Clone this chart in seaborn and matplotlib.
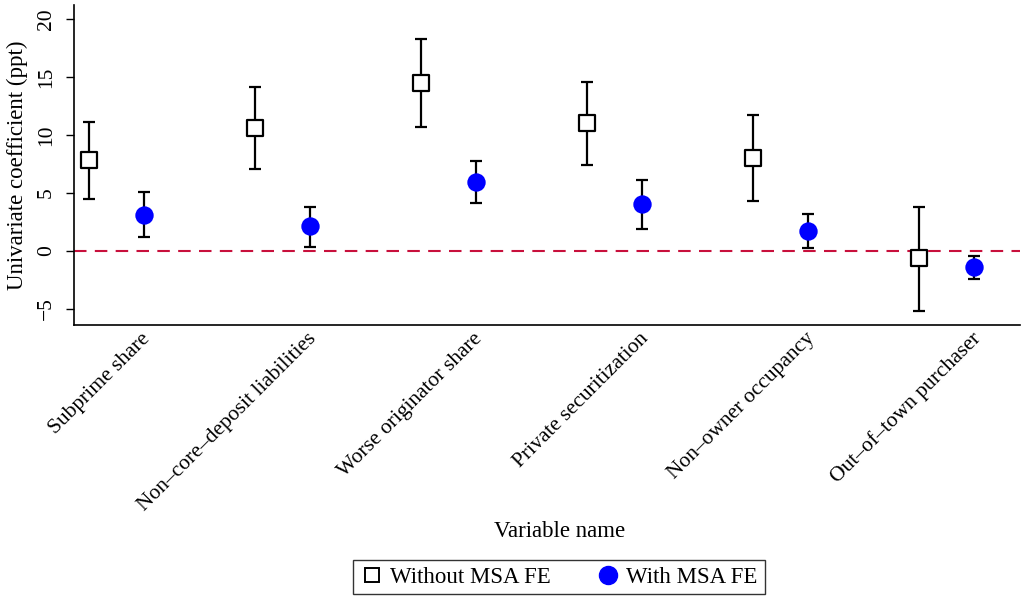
import numpy as np
import pandas as pd
import matplotlib
matplotlib.use("Agg")
import matplotlib.pyplot as plt
import seaborn as sns
from matplotlib.lines import Line2D

categories = ["Subprime share", "Non\u2013core\u2013deposit liabilities", "Worse originator share",
              "Private securitization", "Non\u2013owner occupancy", "Out\u2013of\u2013town purchaser"]
without_coef = [7.82, 10.6, 14.5, 11.0, 8.02, -0.66]
without_lo = [4.48, 7.04, 10.66, 7.41, 4.31, -5.17]
without_hi = [11.1, 14.1, 18.3, 14.6, 11.7, 3.82]
with_coef = [3.1, 2.13, 5.92, 4.05, 1.72, -1.44]
with_lo = [1.2, 0.37, 4.08, 1.9, 0.28, -2.47]
with_hi = [5.03, 3.82, 7.73, 6.12, 3.19, -0.46]
series_names = ["Without MSA FE", "With MSA FE"]

sns.set_theme(style="white")
plt.rcParams['font.family'] = ['Liberation Serif', 'DejaVu Serif']
plt.rcParams['text.color'] = 'black'
plt.rcParams['axes.labelcolor'] = 'black'
plt.rcParams['xtick.color'] = 'black'
plt.rcParams['ytick.color'] = 'black'

fig = plt.figure(figsize=(10.24, 5.98), dpi=100)
ax = fig.add_axes([74/1024, 1 - 325/598, (1020-74)/1024, (325-5)/598])

offset = 0.333
pos = np.arange(len(categories))
df = pd.DataFrame({
    "x": np.concatenate([pos, pos + offset]),
    "coef": without_coef + with_coef,
    "lo": without_lo + with_lo,
    "hi": without_hi + with_hi,
    "series": [series_names[0]] * len(categories) + [series_names[1]] * len(categories),
})

ax.axhline(0, color="#c8103c", lw=1.5, ls=(0, (6, 4)), zorder=1)

for s in series_names:
    d = df[df.series == s]
    ax.errorbar(d.x, d.coef, yerr=[d.coef - d.lo, d.hi - d.coef], fmt="none",
                ecolor="black", elinewidth=1.6, capsize=4.5, capthick=1.6, zorder=2)

d0 = df[df.series == series_names[0]]
d1 = df[df.series == series_names[1]]
sns.scatterplot(data=d0, x="x", y="coef", marker="s", s=145, facecolor="white",
                edgecolor="black", linewidth=1.6, ax=ax, zorder=3, legend=False)
sns.scatterplot(data=d1, x="x", y="coef", marker="o", s=175, color="#0000ff",
                edgecolor="#0000ff", linewidth=0, ax=ax, zorder=3, legend=False)

ax.set_xlim(-0.09, 5.61)
ax.set_ylim(-6.4, 21.2)
ax.set_yticks([-5, 0, 5, 10, 15, 20])
ax.set_yticklabels(["\u22125", "0", "5", "10", "15", "20"], rotation=90, va="center", fontsize=15.5)
ax.set_xticks(pos + offset - 0.02)
ax.set_xticklabels(categories, rotation=45, ha="right", rotation_mode="anchor", fontsize=15.5)
ax.tick_params(axis="y", length=6, width=1, color="black", direction="out", left=True, pad=7)
ax.tick_params(axis="x", length=0, pad=3)
ax.set_ylabel("Univariate coefficient (ppt)", fontsize=16.5)
ax.set_xlabel("Variable name", fontsize=16.5)
ax.yaxis.set_label_coords((28 - 74) / 946, 0.5)
ax.xaxis.set_label_coords((560 - 74) / 946, (325 - 521) / 320)

for sp in ["top", "right"]:
    ax.spines[sp].set_visible(False)
for sp in ["left", "bottom"]:
    ax.spines[sp].set_color("black")
    ax.spines[sp].set_linewidth(1.2)

handles = [
    Line2D([], [], marker="s", ls="none", markersize=10.5, markerfacecolor="white",
           markeredgecolor="black", markeredgewidth=1.4, label=series_names[0]),
    Line2D([], [], marker="o", ls="none", markersize=13, markerfacecolor="#0000ff",
           markeredgecolor="#0000ff", label=series_names[1]),
]
leg = fig.legend(handles=handles, loc="center", bbox_to_anchor=(559/1024, 1 - 577/598), ncol=2,
                 fontsize=16.5, frameon=True, fancybox=False, edgecolor="black",
                 handletextpad=0.3, columnspacing=2.0, borderpad=0.3, handlelength=1.0)
leg.get_frame().set_linewidth(1.0)

fig.savefig("out.png", dpi=100)
